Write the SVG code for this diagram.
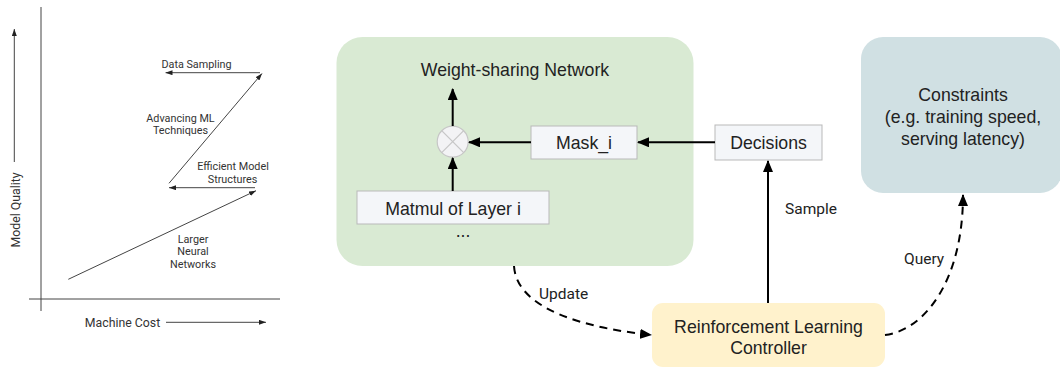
<svg xmlns="http://www.w3.org/2000/svg" width="1060" height="368" viewBox="0 0 1060 368">
<style>
.ct{font-family:Roboto,"Liberation Sans",sans-serif;font-size:10.8px;fill:#333;text-anchor:middle}
.ax{font-family:Roboto,"Liberation Sans",sans-serif;font-size:12.3px;fill:#333;text-anchor:middle}
.cl{stroke:#444;stroke-width:1;fill:none}
.bt{font-family:"Liberation Sans",Arial,sans-serif;font-size:17.7px;fill:#222;text-anchor:middle}
.el{font-family:Roboto,"Liberation Sans",sans-serif;font-size:15.5px;fill:#222}
.box{fill:#f4f6f9;stroke:#b9b9b9;stroke-width:1}
.ar{stroke:#000;stroke-width:2;fill:none;marker-end:url(#ah)}
.da{stroke:#000;stroke-width:2;fill:none;stroke-dasharray:8 6;marker-end:url(#ah)}
</style>
<defs>
<marker id="ah" viewBox="0 0 12 10" refX="11" refY="5" markerWidth="12" markerHeight="10" markerUnits="userSpaceOnUse" orient="auto">
<path d="M0,0 L12,5 L0,10 z" fill="#000"/>
</marker>
<marker id="sa" viewBox="0 0 7 5" refX="7" refY="2.5" markerWidth="7" markerHeight="5" markerUnits="userSpaceOnUse" orient="auto">
<path d="M0,0 L7,2.5 L0,5 z" fill="#222"/>
</marker>
</defs>

<g id="chart">
<line class="cl" x1="41" y1="7" x2="41" y2="311"/>
<line class="cl" x1="29" y1="299" x2="280" y2="299"/>
<line class="cl" x1="14.3" y1="162" x2="14.3" y2="29" marker-end="url(#sa)"/>
<text class="ax" transform="translate(19.5,210) rotate(-90)">Model Quality</text>
<text class="ax" x="122.5" y="327">Machine Cost</text>
<line class="cl" x1="166" y1="322.3" x2="266" y2="322.3" marker-end="url(#sa)"/>
<line class="cl" x1="68.3" y1="279.3" x2="256" y2="190.7" marker-end="url(#sa)"/>
<line class="cl" x1="255" y1="187.7" x2="169" y2="187.7" marker-end="url(#sa)"/>
<line class="cl" x1="169" y1="183.3" x2="262" y2="73.5" marker-end="url(#sa)"/>
<line class="cl" x1="260" y1="72.7" x2="165.5" y2="72.7" marker-end="url(#sa)"/>
<text class="ct" x="196.5" y="67.5">Data Sampling</text>
<text class="ct" x="180.5" y="121.5">Advancing ML</text>
<text class="ct" x="180.5" y="133.5">Techniques</text>
<text class="ct" x="233" y="170">Efficient Model</text>
<text class="ct" x="232.5" y="182.5">Structures</text>
<text class="ct" x="193" y="242.5">Larger</text>
<text class="ct" x="193" y="255">Neural</text>
<text class="ct" x="193" y="267.5">Networks</text>
</g>

<g id="weight-sharing-network">
<rect x="336.5" y="37" width="357" height="229" rx="26" fill="#d9ead3"/>
<text class="bt" x="515" y="76">Weight-sharing Network</text>
<text class="bt" x="463" y="237">...</text>
</g>

<g id="constraints">
<rect x="861" y="37" width="201" height="156" rx="22" fill="#d0e0e3"/>
<text class="bt" x="963" y="101">Constraints</text>
<text class="bt" x="963" y="123">(e.g. training speed,</text>
<text class="bt" x="963" y="145">serving latency)</text>
</g>

<g id="rl-controller">
<rect x="652" y="303" width="233" height="64" rx="11" fill="#fff2cc"/>
<text class="bt" x="768.5" y="333">Reinforcement Learning</text>
<text class="bt" x="768.5" y="353.5">Controller</text>
</g>

<g id="multiply">
<circle cx="452.7" cy="141.7" r="15.5" fill="#f3f3f5" stroke="#c6c6c6" stroke-width="1.2"/>
<line x1="441.7" y1="130.7" x2="463.7" y2="152.7" stroke="#c6c6c6" stroke-width="1.2"/>
<line x1="463.7" y1="130.7" x2="441.7" y2="152.7" stroke="#c6c6c6" stroke-width="1.2"/>
</g>

<g id="mask">
<rect class="box" x="531" y="126" width="106" height="33"/>
<text class="bt" x="584" y="149">Mask_i</text>
</g>

<g id="matmul">
<rect class="box" x="357" y="191" width="192" height="33"/>
<text class="bt" x="453" y="215">Matmul of Layer i</text>
</g>

<g id="decisions">
<rect class="box" x="715" y="125" width="107" height="35"/>
<text class="bt" x="768.5" y="149">Decisions</text>
</g>

<g id="connectors">
<line class="ar" x1="452.7" y1="126" x2="452.7" y2="89"/>
<line class="ar" x1="452.7" y1="191" x2="452.7" y2="158"/>
<line class="ar" x1="531" y1="142.3" x2="469" y2="142.3"/>
<line class="ar" x1="715" y1="142.3" x2="638" y2="142.3"/>
<line class="ar" x1="768" y1="303" x2="768" y2="161"/>
<path class="da" d="M514,266 C516,300 560,325 651,335"/>
<path class="da" d="M885,335 C925,330 963,280 963,195"/>
<text class="el" x="785" y="214">Sample</text>
<text class="el" x="539" y="299">Update</text>
<text class="el" x="904" y="264">Query</text>
</g>
</svg>
